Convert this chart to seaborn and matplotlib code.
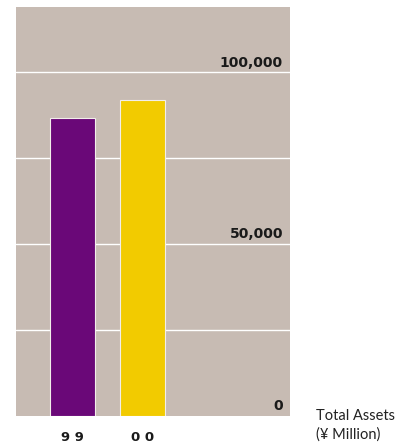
import matplotlib
matplotlib.use("Agg")
import matplotlib.pyplot as plt
import seaborn as sns
import pandas as pd

years = ["99", "00"]
total_assets = [86600, 91900]
bar_colors = ["#6A0878", "#F2CB00"]
grid_values = [25000, 50000, 75000, 100000]
labelled_ticks = [0, 50000, 100000]

sns.set_theme(style="white")
plt.rcParams["font.family"] = ["DejaVu Sans"]

df = pd.DataFrame({"year": years, "assets": total_assets})

fig = plt.figure(figsize=(3.98, 4.47), dpi=100)
ax = fig.add_axes([16 / 398, 1 - 416 / 447, 274 / 398, 409 / 447])
ax.set_facecolor("#C7BBB3")

for v in grid_values:
    ax.axhline(v, color="white", lw=1.0, zorder=1)

sns.barplot(data=df, x="year", y="assets", hue="year", palette=bar_colors,
            saturation=1, width=0.643, legend=False, ax=ax, zorder=2,
            edgecolor="#F2EEEA", linewidth=0.8)

ax.set_xlim(-0.807, 3.107)
ax.set_ylim(0, 119000)
for s in ax.spines.values():
    s.set_visible(False)
ax.set_yticks([])
ax.set_xlabel("")
ax.set_ylabel("")
ax.tick_params(axis="x", length=0, pad=11)
ax.set_xticks(range(len(years)))
ax.set_xticklabels([" ".join(y) for y in years], fontsize=9.5,
                   fontweight="bold", color="#1a1a1a", family="DejaVu Sans")

for v in labelled_ticks:
    ax.annotate(f"{v:,}", xy=(1, v), xycoords=("axes fraction", "data"),
                xytext=(-5, 2), textcoords="offset points",
                ha="right", va="bottom", fontsize=10, fontweight="bold",
                color="#1a1a1a", family="DejaVu Sans")

fig.text(316 / 398, 1 - 409 / 447, "Total Assets\n(¥ Million)", ha="left",
         va="top", fontsize=10.5, color="#222222", linespacing=1.35,
         family=["Lato", "DejaVu Sans"])

fig.savefig("out.png", dpi=100)
